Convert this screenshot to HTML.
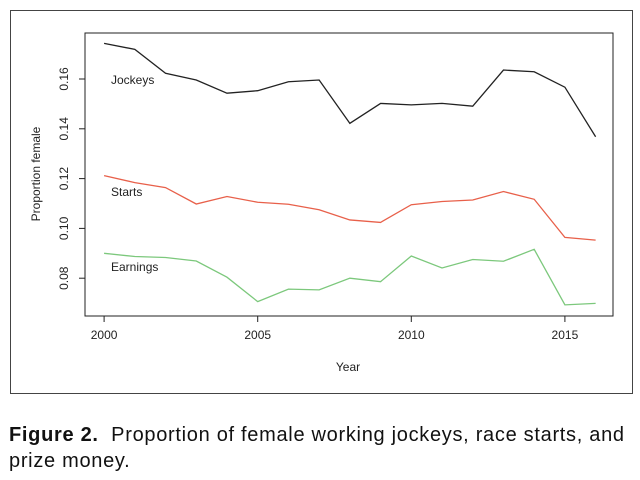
<!DOCTYPE html>
<html><head><meta charset="utf-8"><style>
body{margin:0;background:#fff;width:640px;height:480px;overflow:hidden;font-family:"Liberation Sans",sans-serif}
#cap{position:absolute;left:9px;top:422px;font-size:20px;letter-spacing:0.7px;line-height:26px;color:#111;width:630px;white-space:nowrap}
</style></head><body>
<svg id="chart" width="640" height="410" style="position:absolute;left:0;top:0" font-family="Liberation Sans, sans-serif">
<rect x="10.5" y="10.5" width="622" height="383" fill="none" stroke="#444" stroke-width="1"/>
<rect x="85" y="33" width="528" height="283" fill="none" stroke="#222" stroke-width="1"/>
<g id="g"></g>
</svg>
<div id="cap"><b>Figure 2.</b>&nbsp; Proportion of female working jockeys, race starts, and<br>prize money.</div>
<script>
const years=[2000,2001,2002,2003,2004,2005,2006,2007,2008,2009,2010,2011,2012,2013,2014,2015,2016];
const jockeys=[0.1743,0.1719,0.1623,0.1596,0.1543,0.1553,0.1589,0.1596,0.1422,0.1502,0.1496,0.1502,0.1491,0.1636,0.1629,0.1567,0.1368];
const starts=[0.1212,0.1184,0.1164,0.1098,0.1128,0.1105,0.1097,0.1075,0.1034,0.1024,0.1095,0.1108,0.1114,0.1148,0.1117,0.0964,0.0953];
const earnings=[0.0900,0.0887,0.0883,0.0869,0.0804,0.0706,0.0756,0.0753,0.0800,0.0786,0.0889,0.0841,0.0875,0.0868,0.0916,0.0693,0.0699];
const xTicks=[2000,2005,2010,2015];
const yTicks=[0.08,0.10,0.12,0.14,0.16];
const ns="http://www.w3.org/2000/svg";
const g=document.getElementById('g');
const X=v=>104.1+(v-2000)*30.72;
const Y=v=>79-(v-0.16)*2490;
function mk(t,a,txt){const e=document.createElementNS(ns,t);for(const k in a)e.setAttribute(k,a[k]);if(txt!=null)e.textContent=txt;g.appendChild(e);return e;}
xTicks.forEach(t=>{
 const l=mk('line',{x1:X(t),x2:X(t),y1:316,y2:322,stroke:'#222'});
 
 
 const s=mk('text',{x:X(t),y:339,'font-size':12,'text-anchor':'middle',fill:'#222'},t);
 
 
});
yTicks.forEach(t=>{
 const l=mk('line',{x1:79,x2:85,y1:Y(t),y2:Y(t),stroke:'#222'});
 
 
 const s=mk('text',{x:0,y:0,'font-size':12,'text-anchor':'middle',fill:'#222',transform:`translate(68,${Y(t)}) rotate(-90)`},t.toFixed(2));
 
 
});
const a1=mk('line',{x1:X(2000),x2:X(2015),y1:316,y2:316,stroke:'#222'});


const a2=mk('line',{x1:85,x2:85,y1:Y(0.08),y2:Y(0.16),stroke:'#222'});


const xt=mk('text',{x:348,y:371,'font-size':12,'text-anchor':'middle',fill:'#222'},'Year');


const yt=mk('text',{x:0,y:0,'font-size':12,'text-anchor':'middle',fill:'#222',transform:'translate(40,174) rotate(-90)'},'Proportion female');


function series(vals,col,name){
 const p=mk('polyline',{points:vals.map((v,i)=>X(years[i])+','+Y(v)).join(' '),fill:'none',stroke:col,'stroke-width':1.3});
 
 
}
series(jockeys,'#222','jockeys-line');
series(starts,'#e8604a','starts-line');
series(earnings,'#7cc87c','earnings-line');
[['Jockeys',84],['Starts',196],['Earnings',271]].forEach(([t,y])=>{
 const s=mk('text',{x:111,y:y,'font-size':12,fill:'#222'},t);
 
 
});
</script>
</body></html>
